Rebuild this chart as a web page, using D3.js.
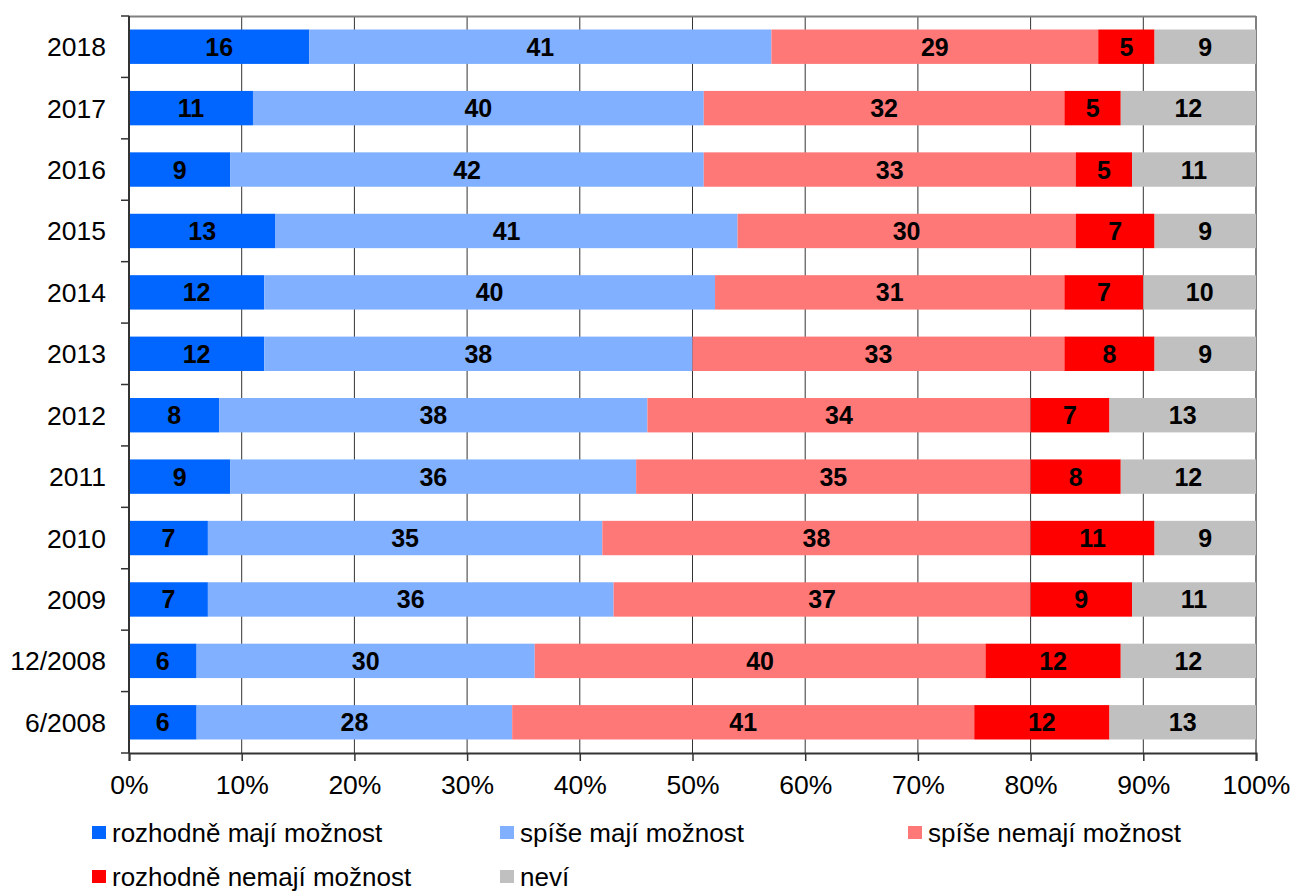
<!DOCTYPE html>
<html><head><meta charset="utf-8">
<script src="https://cdn.jsdelivr.net/npm/d3@7"></script>
<style>body{margin:0;background:#fff}svg{display:block}</style>
</head><body>
<svg id="c" width="1292" height="894"></svg>
<script>
const categories = ["2018","2017","2016","2015","2014","2013","2012","2011","2010","2009","12/2008","6/2008"];
const seriesNames = ["rozhodně mají možnost","spíše mají možnost","spíše nemají možnost","rozhodně nemají možnost","neví"];
const seriesColors = ["#0066FF","#80B0FF","#FF7878","#FF0000","#C0C0C0"];
const rozhodneMaji   = [16,11, 9,13,12,12, 8, 9, 7, 7, 6, 6];
const spiseMaji      = [41,40,42,41,40,38,38,36,35,36,30,28];
const spiseNemaji    = [29,32,33,30,31,33,34,35,38,37,40,41];
const rozhodneNemaji = [ 5, 5, 5, 7, 7, 8, 7, 8,11, 9,12,12];
const nevi           = [ 9,12,11, 9,10, 9,13,12, 9,11,12,13];
const xTicks = [0,10,20,30,40,50,60,70,80,90,100];

const series = [rozhodneMaji,spiseMaji,spiseNemaji,rozhodneNemaji,nevi];
const rows = categories.map((c,i)=>{const o={cat:c}; seriesNames.forEach((s,j)=>o[s]=series[j][i]); return o;});
const stacked = d3.stack().keys(seriesNames)(rows);

const svg = d3.select("#c");
const L=129, R=1256, T=16, B=753;
const x = d3.scaleLinear().domain([0,100]).range([L,R]);
const y = d3.scaleBand().domain(categories).range([T,B]).paddingInner(0.44).paddingOuter(0.22);
const font = "Liberation Sans, Arial, sans-serif";

// gridlines
svg.append("g").selectAll("line").data(xTicks.slice(1,-1)).join("line")
  .attr("x1",d=>x(d)).attr("x2",d=>x(d)).attr("y1",T).attr("y2",B)
  .attr("stroke","#333").attr("stroke-width",1);
// frame top/right
svg.append("line").attr("x1",L).attr("x2",R).attr("y1",T+0.5).attr("y2",T+0.5).attr("stroke","#808080").attr("stroke-width",2);
svg.append("line").attr("x1",R).attr("x2",R).attr("y1",T).attr("y2",B).attr("stroke","#808080").attr("stroke-width",2);

// bars
const g = svg.append("g");
stacked.forEach((s,j)=>{
  const gg = g.append("g").attr("fill",seriesColors[j]);
  gg.selectAll("rect").data(s).join("rect")
    .attr("x",d=>x(d[0])).attr("width",d=>x(d[1])-x(d[0]))
    .attr("y",d=>y(d.data.cat)).attr("height",y.bandwidth());
  gg.selectAll("text").data(s).join("text")
    .attr("x",d=>(x(d[0])+x(d[1]))/2).attr("y",d=>y(d.data.cat)+y.bandwidth()/2)
    .attr("dy","0.36em").attr("text-anchor","middle")
    .attr("font-family",font).attr("font-weight","bold").attr("font-size",25).attr("fill","#000")
    .text(d=>d[1]-d[0]);
});

// x axis
const xa = svg.append("g").attr("transform",`translate(0,${B})`)
  .call(d3.axisBottom(x).tickValues(xTicks).tickFormat(d=>d+"%").tickSize(8).tickPadding(14));
xa.select(".domain").attr("stroke","#333").attr("stroke-width",2);
xa.selectAll(".tick line").attr("stroke","#333").attr("stroke-width",1.5);
xa.selectAll("text").attr("font-family",font).attr("font-size",26.5).attr("fill","#000");

// y axis
svg.append("line").attr("x1",L).attr("x2",L).attr("y1",T).attr("y2",B).attr("stroke","#333").attr("stroke-width",2);
svg.append("g").selectAll("line").data(d3.range(categories.length+1)).join("line")
  .attr("x1",L-8).attr("x2",L).attr("y1",i=>T+i*(B-T)/categories.length).attr("y2",i=>T+i*(B-T)/categories.length)
  .attr("stroke","#333").attr("stroke-width",1.5);
svg.append("g").selectAll("text").data(categories).join("text")
  .attr("x",106).attr("y",d=>y(d)+y.bandwidth()/2).attr("dy","0.36em").attr("text-anchor","end")
  .attr("font-family",font).attr("font-size",26.5).attr("fill","#000").text(d=>d);

// legend
const legPos = [[92,833],[500,833],[908,833],[92,877],[500,877]];
const lg = svg.append("g");
seriesNames.forEach((s,j)=>{
  const [lx,ly]=legPos[j];
  lg.append("rect").attr("x",lx).attr("y",ly-7).attr("width",14).attr("height",13).attr("fill",seriesColors[j]);
  lg.append("text").attr("x",lx+20).attr("y",ly).attr("dy","0.36em")
    .attr("font-family",font).attr("font-size",26).attr("fill","#000").text(s);
});
</script>
</body></html>
